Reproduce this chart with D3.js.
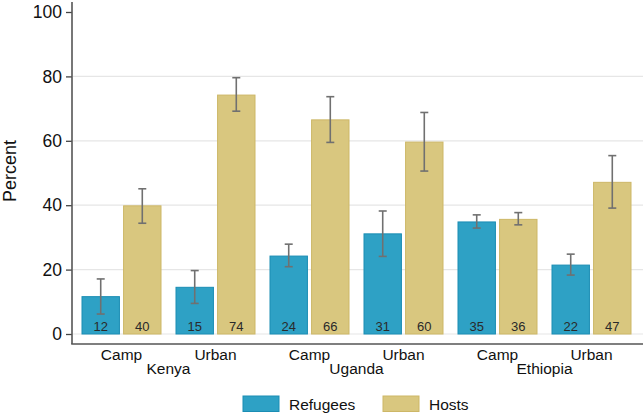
<!DOCTYPE html>
<html>
<head>
<meta charset="utf-8">
<script src="https://cdn.jsdelivr.net/npm/d3@7"></script>
<style>
  body { margin: 0; background: #fff; }
  svg { font-family: "Liberation Sans", Arial, Helvetica, sans-serif; }
</style>
</head>
<body>
<div id="chart"></div>
<script>
// data
const countries = ['Kenya', 'Uganda', 'Ethiopia'];
const settings = ['Camp', 'Urban'];
const groups = ['Refugees', 'Hosts'];
// order: Kenya Camp, Kenya Urban, Uganda Camp, Uganda Urban, Ethiopia Camp, Ethiopia Urban
const refugeeValues = [11.6, 14.5, 24.2, 31.1, 34.8, 21.4];
const refugeeLow = [6.2, 9.5, 20.9, 24.1, 32.9, 18.3];
const refugeeHigh = [17.1, 19.7, 27.9, 38.2, 37.0, 24.8];
const hostValues = [39.8, 74.2, 66.5, 59.6, 35.6, 47.1];
const hostLow = [34.4, 69.2, 59.5, 50.6, 33.9, 39.1];
const hostHigh = [45.1, 79.6, 73.7, 68.8, 37.7, 55.4];
const refugeeLabels = [12, 15, 24, 31, 35, 22];
const hostLabels = [40, 74, 66, 60, 36, 47];
const yTicks = [0, 20, 40, 60, 80, 100];
const gridTicks = [0, 20, 40, 60, 80];

const colors = { Refugees: '#2ea1c5', Hosts: '#d9c77f' };
const strokes = { Refugees: '#1b8db4', Hosts: '#cdb767' };

const width = 643;
const height = 414;

// build rows
const slots = [];
countries.forEach(c => settings.forEach(s => slots.push({ country: c, setting: s, key: `${c}-${s}` })));
const rows = [];
slots.forEach((sl, i) => {
    rows.push({ slot: sl.key, group: 'Refugees', value: refugeeValues[i], low: refugeeLow[i], high: refugeeHigh[i], label: refugeeLabels[i] });
    rows.push({ slot: sl.key, group: 'Hosts', value: hostValues[i], low: hostLow[i], high: hostHigh[i], label: hostLabels[i] });
});

// scales
const scaleX = d3.scaleBand().domain(slots.map(d => d.key)).range([74.5, 638.5]);
const scaleInner = d3.scaleBand().domain(groups).range([7.5, 86.5]).paddingInner(0.1);
const scaleY = d3.scaleLinear().domain([0, 100]).range([334, 12]);

const $svg = d3.select('#chart').append('svg')
    .attr('width', width)
    .attr('height', height);

// gridlines
$svg.append('g').attr('class', 'g-grid')
    .selectAll('line').data(gridTicks).join('line')
    .attr('x1', 73).attr('x2', width)
    .attr('y1', d => scaleY(d)).attr('y2', d => scaleY(d))
    .attr('stroke', '#e6e6e6').attr('stroke-width', 1.2);

// bars
const $vis = $svg.append('g').attr('class', 'g-vis');
const barX = d => scaleX(d.slot) + scaleInner(d.group);

$vis.selectAll('rect').data(rows).join('rect')
    .attr('x', barX)
    .attr('y', d => scaleY(d.value))
    .attr('width', scaleInner.bandwidth())
    .attr('height', d => scaleY(0) - scaleY(d.value))
    .attr('fill', d => colors[d.group])
    .attr('stroke', d => strokes[d.group])
    .attr('stroke-width', 1);

// error bars
const cx = d => barX(d) + scaleInner.bandwidth() / 2;
const $err = $vis.append('g').attr('stroke', '#707070').attr('stroke-width', 1.6);
$err.selectAll('.stem').data(rows).join('line')
    .attr('class', 'stem')
    .attr('x1', cx).attr('x2', cx)
    .attr('y1', d => scaleY(d.low)).attr('y2', d => scaleY(d.high));
$err.selectAll('.cap-hi').data(rows).join('line')
    .attr('class', 'cap-hi')
    .attr('x1', d => cx(d) - 4).attr('x2', d => cx(d) + 4)
    .attr('y1', d => scaleY(d.high)).attr('y2', d => scaleY(d.high));
$err.selectAll('.cap-lo').data(rows).join('line')
    .attr('class', 'cap-lo')
    .attr('x1', d => cx(d) - 4).attr('x2', d => cx(d) + 4)
    .attr('y1', d => scaleY(d.low)).attr('y2', d => scaleY(d.low));

// value labels
$vis.selectAll('.val').data(rows).join('text')
    .attr('class', 'val')
    .attr('x', cx)
    .attr('y', scaleY(0) - 3)
    .attr('text-anchor', 'middle')
    .attr('font-size', 13)
    .attr('fill', '#2a2a2a')
    .text(d => d.label);

// y axis
const $yAxis = $svg.append('g')
    .attr('transform', 'translate(72,0)')
    .call(d3.axisLeft(scaleY).tickValues(yTicks).tickSize(6).tickPadding(4));
$yAxis.select('.domain').remove();
$yAxis.selectAll('.tick line').attr('stroke', '#444').attr('stroke-width', 1.3);
$yAxis.selectAll('.tick text').attr('font-size', 17.5).attr('fill', '#111')
    .attr('font-family', '"Liberation Sans", Arial, sans-serif');

// axis lines
$svg.append('line').attr('x1', 72).attr('x2', 72).attr('y1', 2).attr('y2', 344)
    .attr('stroke', '#555').attr('stroke-width', 1.6);
$svg.append('line').attr('x1', 71.2).attr('x2', width).attr('y1', 344).attr('y2', 344)
    .attr('stroke', '#555').attr('stroke-width', 1.6);

// x labels
$svg.append('g').selectAll('text').data(slots).join('text')
    .attr('x', d => scaleX(d.key) + scaleX.bandwidth() / 2)
    .attr('y', 359.5)
    .attr('text-anchor', 'middle')
    .attr('font-size', 15.5)
    .attr('fill', '#111')
    .text(d => d.setting);

$svg.append('g').selectAll('text').data(countries).join('text')
    .attr('x', d => scaleX(`${d}-Urban`))
    .attr('y', 374)
    .attr('text-anchor', 'middle')
    .attr('font-size', 15.5)
    .attr('fill', '#111')
    .text(d => d);

// y title
$svg.append('text')
    .attr('transform', 'translate(15.5, 171) rotate(-90)')
    .attr('text-anchor', 'middle')
    .attr('font-size', 18)
    .attr('fill', '#111')
    .text('Percent');

// legend
const legendX = [243, 383];
const $legend = $svg.append('g').selectAll('g').data(groups).join('g')
    .attr('transform', (d, i) => `translate(${legendX[i]}, 396)`);
$legend.append('rect')
    .attr('width', 36).attr('height', 15.5)
    .attr('fill', d => colors[d])
    .attr('stroke', d => strokes[d]);
$legend.append('text')
    .attr('x', 46).attr('y', 14)
    .attr('font-size', 15.5)
    .attr('fill', '#111')
    .text(d => d);
</script>
</body>
</html>
